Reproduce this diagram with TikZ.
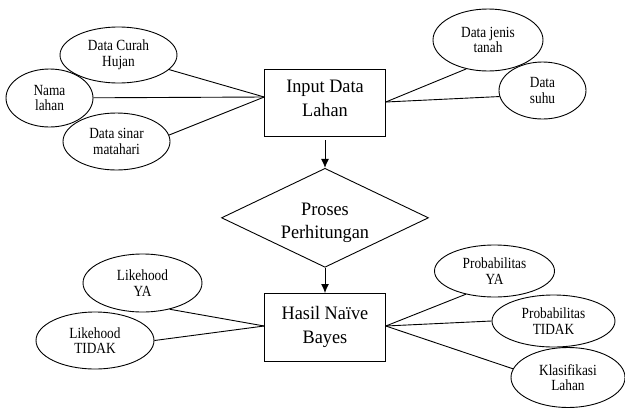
\documentclass[tikz,border=0pt]{standalone}
\usepackage{fontspec}
\setmainfont{Liberation Serif}
\newfontfamily\boxfont[FakeStretch=0.96]{Liberation Serif}
\newfontfamily\elfont[FakeStretch=0.86]{Liberation Serif}
\usetikzlibrary{shapes.geometric,arrows.meta}
\begin{document}
\begin{tikzpicture}[x=1pt,y=-1pt,
  line width=0.9pt,
  stepbox/.style={draw,rectangle,minimum width=121.7pt,minimum height=67.5pt,inner sep=0pt,align=center,font=\boxfont\fontsize{19}{23.5}\selectfont},
  decide/.style={draw,diamond,aspect=2.09,minimum width=207pt,minimum height=99pt,inner sep=0pt,align=center,font=\boxfont\fontsize{19}{23.5}\selectfont},
  attr/.style={draw,ellipse,inner sep=0pt,align=center,font=\elfont\fontsize{15.5}{15.5}\selectfont},
  arr/.style={-{Latex[length=9pt,width=8pt]}}]
\useasboundingbox (0,0) rectangle (625,408);
% main flow
\node[stepbox] (in) at (325,103) {Input Data\\Lahan\rule[-9pt]{0pt}{0pt}};
\node[decide] (dia) at (325,217.8) {\rule{0pt}{22pt}Proses\\Perhitungan};
\node[stepbox] (has) at (325,327.2) {Hasil Naïve\\Bayes};
% attributes
\node[attr,minimum width=117pt,minimum height=56pt] (curah) at (118.5,55) {Data Curah\\Hujan};
\node[attr,minimum width=87pt,minimum height=58pt] (nama) at (49.5,98) {Nama\\lahan};
\node[attr,minimum width=107pt,minimum height=57pt] (sinar) at (116.5,141.5) {Data sinar\\matahari};
\node[attr,minimum width=110pt,minimum height=62pt] (jenis) at (488,40) {Data jenis\\tanah};
\node[attr,minimum width=87pt,minimum height=57pt] (suhu) at (542.5,90.5) {Data\\suhu};
\node[attr,minimum width=119pt,minimum height=58pt] (likya) at (142.5,283) {Likehood\\YA};
\node[attr,minimum width=118pt,minimum height=57pt] (likt) at (95,340.5) {Likehood\\TIDAK};
\node[attr,minimum width=120pt,minimum height=52pt] (proya) at (494.5,271) {Probabilitas\\YA};
\node[attr,minimum width=123pt,minimum height=52pt] (prot) at (553.5,321) {Probabilitas\\TIDAK};
\node[attr,minimum width=114pt,minimum height=60pt] (klas) at (568,377.5) {Klasifikasi\\Lahan};
% convergence points
\coordinate (inL) at (264.2,97);
\coordinate (inR) at (385.8,102);
\coordinate (hasL) at (264.2,326);
\coordinate (hasR) at (385.8,326);
% connectors
\draw (curah) -- (inL);
\draw (nama) -- (inL);
\draw (sinar.7) -- (inL);
\draw (jenis.-127) -- (inR);
\draw (suhu.188) -- (inR);
\draw (likya.-44) -- (hasL);
\draw (likt.east) -- (hasL);
\draw (proya.-141) -- (hasR);
\draw (prot.west) -- (hasR);
\draw (klas.171) -- (hasR);
% arrows
\draw[arr,shorten <=3pt] (in.south) -- (dia.north);
\draw[arr] (dia.south) -- (has.north);
\end{tikzpicture}
\end{document}
